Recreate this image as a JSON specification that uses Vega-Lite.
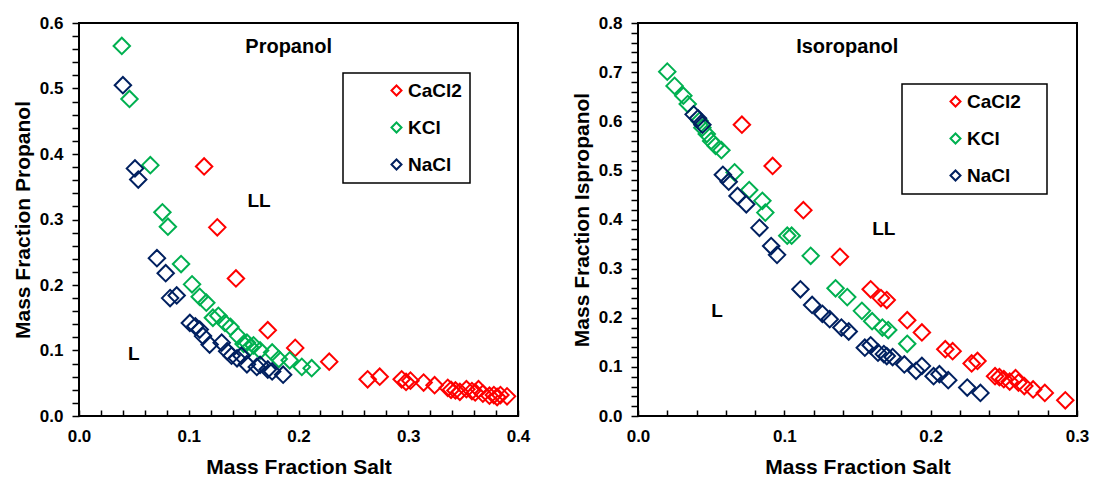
{
  "$schema": "https://vega.github.io/schema/vega-lite/v6.json",
  "padding": {"left": 11, "top": 13, "right": 5, "bottom": 5},
  "background": "white",
  "config": {
    "font": "Liberation Sans",
    "view": {"stroke": "black", "strokeWidth": 2},
    "axis": {"grid": false, "domain": false, "ticks": true, "tickColor": "#000000", "tickOpacity": 1, "tickWidth": 1.5, "zindex": 1, "labelFont": "Liberation Sans", "labelFontWeight": "bold", "labelFontSize": 17, "labelColor": "black", "titleFont": "Liberation Sans", "titleFontWeight": "bold", "titleFontSize": 21, "titleColor": "black", "labelOverlap": false, "labelFlush": false},
    "legend": {"labelFont": "Liberation Sans", "labelFontWeight": "bold", "labelFontSize": 19, "labelColor": "black", "strokeColor": "black", "strokeWidth": 1.5, "padding": 8, "symbolType": "diamond", "symbolSize": 100, "symbolStrokeWidth": 2, "symbolOffset": 36, "labelOffset": 2, "rowPadding": 17, "fillColor": "white"}
  },
  "datasets": {
    "pts": [
      {"panel": "P", "salt": "CaCl2", "x": 0.114, "y": 0.381},
      {"panel": "P", "salt": "CaCl2", "x": 0.126, "y": 0.288},
      {"panel": "P", "salt": "CaCl2", "x": 0.143, "y": 0.210},
      {"panel": "P", "salt": "CaCl2", "x": 0.172, "y": 0.131},
      {"panel": "P", "salt": "CaCl2", "x": 0.197, "y": 0.104},
      {"panel": "P", "salt": "CaCl2", "x": 0.228, "y": 0.083},
      {"panel": "P", "salt": "CaCl2", "x": 0.263, "y": 0.056},
      {"panel": "P", "salt": "CaCl2", "x": 0.274, "y": 0.060},
      {"panel": "P", "salt": "CaCl2", "x": 0.294, "y": 0.056},
      {"panel": "P", "salt": "CaCl2", "x": 0.298, "y": 0.052},
      {"panel": "P", "salt": "CaCl2", "x": 0.302, "y": 0.054},
      {"panel": "P", "salt": "CaCl2", "x": 0.314, "y": 0.051},
      {"panel": "P", "salt": "CaCl2", "x": 0.324, "y": 0.047},
      {"panel": "P", "salt": "CaCl2", "x": 0.336, "y": 0.043},
      {"panel": "P", "salt": "CaCl2", "x": 0.339, "y": 0.040},
      {"panel": "P", "salt": "CaCl2", "x": 0.343, "y": 0.039},
      {"panel": "P", "salt": "CaCl2", "x": 0.347, "y": 0.037},
      {"panel": "P", "salt": "CaCl2", "x": 0.353, "y": 0.041},
      {"panel": "P", "salt": "CaCl2", "x": 0.358, "y": 0.038},
      {"panel": "P", "salt": "CaCl2", "x": 0.361, "y": 0.036},
      {"panel": "P", "salt": "CaCl2", "x": 0.364, "y": 0.041},
      {"panel": "P", "salt": "CaCl2", "x": 0.368, "y": 0.034},
      {"panel": "P", "salt": "CaCl2", "x": 0.374, "y": 0.031},
      {"panel": "P", "salt": "CaCl2", "x": 0.378, "y": 0.032},
      {"panel": "P", "salt": "CaCl2", "x": 0.381, "y": 0.029},
      {"panel": "P", "salt": "CaCl2", "x": 0.384, "y": 0.032},
      {"panel": "P", "salt": "CaCl2", "x": 0.390, "y": 0.030},
      {"panel": "P", "salt": "KCl", "x": 0.039, "y": 0.565},
      {"panel": "P", "salt": "KCl", "x": 0.046, "y": 0.484},
      {"panel": "P", "salt": "KCl", "x": 0.065, "y": 0.383},
      {"panel": "P", "salt": "KCl", "x": 0.076, "y": 0.311},
      {"panel": "P", "salt": "KCl", "x": 0.081, "y": 0.289},
      {"panel": "P", "salt": "KCl", "x": 0.093, "y": 0.232},
      {"panel": "P", "salt": "KCl", "x": 0.103, "y": 0.201},
      {"panel": "P", "salt": "KCl", "x": 0.110, "y": 0.182},
      {"panel": "P", "salt": "KCl", "x": 0.116, "y": 0.173},
      {"panel": "P", "salt": "KCl", "x": 0.122, "y": 0.150},
      {"panel": "P", "salt": "KCl", "x": 0.127, "y": 0.153},
      {"panel": "P", "salt": "KCl", "x": 0.133, "y": 0.142},
      {"panel": "P", "salt": "KCl", "x": 0.138, "y": 0.136},
      {"panel": "P", "salt": "KCl", "x": 0.145, "y": 0.122},
      {"panel": "P", "salt": "KCl", "x": 0.150, "y": 0.110},
      {"panel": "P", "salt": "KCl", "x": 0.153, "y": 0.112},
      {"panel": "P", "salt": "KCl", "x": 0.156, "y": 0.105},
      {"panel": "P", "salt": "KCl", "x": 0.159, "y": 0.108},
      {"panel": "P", "salt": "KCl", "x": 0.165, "y": 0.100},
      {"panel": "P", "salt": "KCl", "x": 0.176, "y": 0.097},
      {"panel": "P", "salt": "KCl", "x": 0.182, "y": 0.087},
      {"panel": "P", "salt": "KCl", "x": 0.192, "y": 0.085},
      {"panel": "P", "salt": "KCl", "x": 0.203, "y": 0.075},
      {"panel": "P", "salt": "KCl", "x": 0.212, "y": 0.073},
      {"panel": "P", "salt": "NaCl", "x": 0.040, "y": 0.505},
      {"panel": "P", "salt": "NaCl", "x": 0.051, "y": 0.378},
      {"panel": "P", "salt": "NaCl", "x": 0.054, "y": 0.361},
      {"panel": "P", "salt": "NaCl", "x": 0.071, "y": 0.241},
      {"panel": "P", "salt": "NaCl", "x": 0.079, "y": 0.218},
      {"panel": "P", "salt": "NaCl", "x": 0.083, "y": 0.180},
      {"panel": "P", "salt": "NaCl", "x": 0.089, "y": 0.184},
      {"panel": "P", "salt": "NaCl", "x": 0.101, "y": 0.142},
      {"panel": "P", "salt": "NaCl", "x": 0.106, "y": 0.137},
      {"panel": "P", "salt": "NaCl", "x": 0.110, "y": 0.132},
      {"panel": "P", "salt": "NaCl", "x": 0.113, "y": 0.122},
      {"panel": "P", "salt": "NaCl", "x": 0.119, "y": 0.109},
      {"panel": "P", "salt": "NaCl", "x": 0.130, "y": 0.112},
      {"panel": "P", "salt": "NaCl", "x": 0.135, "y": 0.099},
      {"panel": "P", "salt": "NaCl", "x": 0.139, "y": 0.092},
      {"panel": "P", "salt": "NaCl", "x": 0.144, "y": 0.088},
      {"panel": "P", "salt": "NaCl", "x": 0.148, "y": 0.092},
      {"panel": "P", "salt": "NaCl", "x": 0.153, "y": 0.079},
      {"panel": "P", "salt": "NaCl", "x": 0.162, "y": 0.075},
      {"panel": "P", "salt": "NaCl", "x": 0.165, "y": 0.078},
      {"panel": "P", "salt": "NaCl", "x": 0.172, "y": 0.071},
      {"panel": "P", "salt": "NaCl", "x": 0.176, "y": 0.068},
      {"panel": "P", "salt": "NaCl", "x": 0.186, "y": 0.063},
      {"panel": "I", "salt": "CaCl2", "x": 0.071, "y": 0.593},
      {"panel": "I", "salt": "CaCl2", "x": 0.092, "y": 0.509},
      {"panel": "I", "salt": "CaCl2", "x": 0.113, "y": 0.419},
      {"panel": "I", "salt": "CaCl2", "x": 0.138, "y": 0.324},
      {"panel": "I", "salt": "CaCl2", "x": 0.159, "y": 0.258},
      {"panel": "I", "salt": "CaCl2", "x": 0.166, "y": 0.240},
      {"panel": "I", "salt": "CaCl2", "x": 0.170, "y": 0.236},
      {"panel": "I", "salt": "CaCl2", "x": 0.184, "y": 0.195},
      {"panel": "I", "salt": "CaCl2", "x": 0.194, "y": 0.170},
      {"panel": "I", "salt": "CaCl2", "x": 0.210, "y": 0.136},
      {"panel": "I", "salt": "CaCl2", "x": 0.215, "y": 0.132},
      {"panel": "I", "salt": "CaCl2", "x": 0.228, "y": 0.107},
      {"panel": "I", "salt": "CaCl2", "x": 0.232, "y": 0.112},
      {"panel": "I", "salt": "CaCl2", "x": 0.244, "y": 0.081},
      {"panel": "I", "salt": "CaCl2", "x": 0.247, "y": 0.079},
      {"panel": "I", "salt": "CaCl2", "x": 0.250, "y": 0.075},
      {"panel": "I", "salt": "CaCl2", "x": 0.254, "y": 0.070},
      {"panel": "I", "salt": "CaCl2", "x": 0.258, "y": 0.077},
      {"panel": "I", "salt": "CaCl2", "x": 0.260, "y": 0.068},
      {"panel": "I", "salt": "CaCl2", "x": 0.264, "y": 0.061},
      {"panel": "I", "salt": "CaCl2", "x": 0.270, "y": 0.054},
      {"panel": "I", "salt": "CaCl2", "x": 0.278, "y": 0.047},
      {"panel": "I", "salt": "CaCl2", "x": 0.292, "y": 0.032},
      {"panel": "I", "salt": "KCl", "x": 0.020, "y": 0.701},
      {"panel": "I", "salt": "KCl", "x": 0.025, "y": 0.672},
      {"panel": "I", "salt": "KCl", "x": 0.031, "y": 0.652},
      {"panel": "I", "salt": "KCl", "x": 0.034, "y": 0.635},
      {"panel": "I", "salt": "KCl", "x": 0.042, "y": 0.601},
      {"panel": "I", "salt": "KCl", "x": 0.044, "y": 0.587},
      {"panel": "I", "salt": "KCl", "x": 0.047, "y": 0.574},
      {"panel": "I", "salt": "KCl", "x": 0.050, "y": 0.560},
      {"panel": "I", "salt": "KCl", "x": 0.053, "y": 0.550},
      {"panel": "I", "salt": "KCl", "x": 0.057, "y": 0.541},
      {"panel": "I", "salt": "KCl", "x": 0.066, "y": 0.496},
      {"panel": "I", "salt": "KCl", "x": 0.076, "y": 0.460},
      {"panel": "I", "salt": "KCl", "x": 0.085, "y": 0.438},
      {"panel": "I", "salt": "KCl", "x": 0.087, "y": 0.414},
      {"panel": "I", "salt": "KCl", "x": 0.102, "y": 0.367},
      {"panel": "I", "salt": "KCl", "x": 0.105, "y": 0.367},
      {"panel": "I", "salt": "KCl", "x": 0.118, "y": 0.326},
      {"panel": "I", "salt": "KCl", "x": 0.135, "y": 0.260},
      {"panel": "I", "salt": "KCl", "x": 0.143, "y": 0.242},
      {"panel": "I", "salt": "KCl", "x": 0.153, "y": 0.214},
      {"panel": "I", "salt": "KCl", "x": 0.160, "y": 0.193},
      {"panel": "I", "salt": "KCl", "x": 0.167, "y": 0.180},
      {"panel": "I", "salt": "KCl", "x": 0.171, "y": 0.175},
      {"panel": "I", "salt": "KCl", "x": 0.184, "y": 0.147},
      {"panel": "I", "salt": "NaCl", "x": 0.038, "y": 0.614},
      {"panel": "I", "salt": "NaCl", "x": 0.041, "y": 0.606},
      {"panel": "I", "salt": "NaCl", "x": 0.044, "y": 0.593},
      {"panel": "I", "salt": "NaCl", "x": 0.058, "y": 0.491},
      {"panel": "I", "salt": "NaCl", "x": 0.062, "y": 0.477},
      {"panel": "I", "salt": "NaCl", "x": 0.068, "y": 0.448},
      {"panel": "I", "salt": "NaCl", "x": 0.074, "y": 0.431},
      {"panel": "I", "salt": "NaCl", "x": 0.083, "y": 0.383},
      {"panel": "I", "salt": "NaCl", "x": 0.091, "y": 0.346},
      {"panel": "I", "salt": "NaCl", "x": 0.095, "y": 0.328},
      {"panel": "I", "salt": "NaCl", "x": 0.111, "y": 0.258},
      {"panel": "I", "salt": "NaCl", "x": 0.119, "y": 0.226},
      {"panel": "I", "salt": "NaCl", "x": 0.126, "y": 0.208},
      {"panel": "I", "salt": "NaCl", "x": 0.131, "y": 0.197},
      {"panel": "I", "salt": "NaCl", "x": 0.139, "y": 0.180},
      {"panel": "I", "salt": "NaCl", "x": 0.144, "y": 0.172},
      {"panel": "I", "salt": "NaCl", "x": 0.155, "y": 0.139},
      {"panel": "I", "salt": "NaCl", "x": 0.159, "y": 0.144},
      {"panel": "I", "salt": "NaCl", "x": 0.164, "y": 0.129},
      {"panel": "I", "salt": "NaCl", "x": 0.168, "y": 0.126},
      {"panel": "I", "salt": "NaCl", "x": 0.170, "y": 0.122},
      {"panel": "I", "salt": "NaCl", "x": 0.174, "y": 0.120},
      {"panel": "I", "salt": "NaCl", "x": 0.182, "y": 0.105},
      {"panel": "I", "salt": "NaCl", "x": 0.190, "y": 0.092},
      {"panel": "I", "salt": "NaCl", "x": 0.194, "y": 0.102},
      {"panel": "I", "salt": "NaCl", "x": 0.202, "y": 0.081},
      {"panel": "I", "salt": "NaCl", "x": 0.206, "y": 0.085},
      {"panel": "I", "salt": "NaCl", "x": 0.212, "y": 0.073},
      {"panel": "I", "salt": "NaCl", "x": 0.225, "y": 0.058},
      {"panel": "I", "salt": "NaCl", "x": 0.234, "y": 0.047}
    ],
    "notes": [
      {"panel": "P", "kind": "title", "label": "Propanol", "x": 0.191, "y": 0.563},
      {"panel": "P", "kind": "region", "label": "LL", "x": 0.164, "y": 0.328},
      {"panel": "P", "kind": "region", "label": "L", "x": 0.050, "y": 0.095},
      {"panel": "I", "kind": "title", "label": "Isoropanol", "x": 0.143, "y": 0.751},
      {"panel": "I", "kind": "region", "label": "LL", "x": 0.168, "y": 0.381},
      {"panel": "I", "kind": "region", "label": "L", "x": 0.054, "y": 0.214}
    ]
  },
  "hconcat": [
    {
      "width": 439,
      "height": 393,
      "resolve": {"axis": {"x": "independent", "y": "independent"}},
      "layer": [
        {
          "data": {"name": "pts"},
          "transform": [{"filter": "datum.panel === 'P'"}],
          "mark": {"type": "point", "shape": "diamond", "filled": false, "size": 270, "strokeWidth": 2, "opacity": 1},
          "encoding": {
            "x": {"field": "x", "type": "quantitative", "scale": {"domain": [0, 0.4], "nice": false},
              "axis": {"title": "Mass Fraction Salt", "orient": "bottom", "values": [0,0.02,0.04,0.06,0.08,0.1,0.12,0.14,0.16,0.18,0.2,0.22,0.24,0.26,0.28,0.3,0.32,0.34,0.36,0.38,0.4], "labelExpr": "abs(datum.value*10 - round(datum.value*10)) < 0.001 ? format(datum.value, '.1f') : ''", "ticks": true, "tickColor": "#000000", "tickWidth": 1.5, "tickSize": -6, "labelPadding": 18, "titlePadding": 12, "labelOverlap": false}},
            "y": {"field": "y", "type": "quantitative", "scale": {"domain": [0, 0.6], "nice": false},
              "axis": {"title": "Mass Fraction Propanol", "orient": "left", "values": [0,0.02,0.04,0.06,0.08,0.1,0.12,0.14,0.16,0.18,0.2,0.22,0.24,0.26,0.28,0.3,0.32,0.34,0.36,0.38,0.4,0.42,0.44,0.46,0.48,0.5,0.52,0.54,0.56,0.58,0.6], "labelExpr": "abs(datum.value*10 - round(datum.value*10)) < 0.001 ? format(datum.value, '.1f') : ''", "ticks": true, "tickColor": "#000000", "tickWidth": 1.5, "tickSize": 7, "labelPadding": 9, "titlePadding": 6, "labelOverlap": false}},
            "color": {"field": "salt", "type": "nominal", "scale": {"domain": ["CaCl2", "KCl", "NaCl"], "range": ["#FF0000", "#00B050", "#002060"]},
              "legend": {"title": null, "orient": "none", "legendX": 264, "legendY": 50}}
          }
        },
        {
          "data": {"name": "notes"},
          "transform": [{"filter": "datum.panel === 'P' && datum.kind === 'title'"}],
          "mark": {"type": "text", "font": "Liberation Sans", "fontWeight": "bold", "fontSize": 20, "align": "center", "baseline": "middle", "color": "black"},
          "encoding": {"x": {"field": "x", "type": "quantitative", "axis": null}, "y": {"field": "y", "type": "quantitative", "axis": null}, "text": {"field": "label"}}
        },
        {
          "data": {"name": "notes"},
          "transform": [{"filter": "datum.panel === 'P' && datum.kind === 'region'"}],
          "mark": {"type": "text", "font": "Liberation Sans", "fontWeight": "bold", "fontSize": 19, "align": "center", "baseline": "middle", "color": "black"},
          "encoding": {"x": {"field": "x", "type": "quantitative", "axis": null}, "y": {"field": "y", "type": "quantitative", "axis": null}, "text": {"field": "label"}}
        }
      ]
    },
    {
      "width": 439,
      "height": 393,
      "resolve": {"axis": {"x": "independent", "y": "independent"}},
      "layer": [
        {
          "data": {"name": "pts"},
          "transform": [{"filter": "datum.panel === 'I'"}],
          "mark": {"type": "point", "shape": "diamond", "filled": false, "size": 270, "strokeWidth": 2, "opacity": 1},
          "encoding": {
            "x": {"field": "x", "type": "quantitative", "scale": {"domain": [0, 0.3], "nice": false},
              "axis": {"title": "Mass Fraction Salt", "orient": "bottom", "values": [0,0.02,0.04,0.06,0.08,0.1,0.12,0.14,0.16,0.18,0.2,0.22,0.24,0.26,0.28,0.3], "labelExpr": "abs(datum.value*10 - round(datum.value*10)) < 0.001 ? format(datum.value, '.1f') : ''", "ticks": true, "tickColor": "#000000", "tickWidth": 1.5, "tickSize": -6, "labelPadding": 18, "titlePadding": 12, "labelOverlap": false}},
            "y": {"field": "y", "type": "quantitative", "scale": {"domain": [0, 0.8], "nice": false},
              "axis": {"title": "Mass Fraction Ispropanol", "orient": "left", "values": [0,0.02,0.04,0.06,0.08,0.1,0.12,0.14,0.16,0.18,0.2,0.22,0.24,0.26,0.28,0.3,0.32,0.34,0.36,0.38,0.4,0.42,0.44,0.46,0.48,0.5,0.52,0.54,0.56,0.58,0.6,0.62,0.64,0.66,0.68,0.7,0.72,0.74,0.76,0.78,0.8], "labelExpr": "abs(datum.value*10 - round(datum.value*10)) < 0.001 ? format(datum.value, '.1f') : ''", "ticks": true, "tickColor": "#000000", "tickWidth": 1.5, "tickSize": 7, "labelPadding": 9, "titlePadding": 6, "labelOverlap": false}},
            "color": {"field": "salt", "type": "nominal", "scale": {"domain": ["CaCl2", "KCl", "NaCl"], "range": ["#FF0000", "#00B050", "#002060"]},
              "legend": {"title": " ", "titleOrient": "right", "titlePadding": 18, "orient": "none", "legendX": 264, "legendY": 61}}
          }
        },
        {
          "data": {"name": "notes"},
          "transform": [{"filter": "datum.panel === 'I' && datum.kind === 'title'"}],
          "mark": {"type": "text", "font": "Liberation Sans", "fontWeight": "bold", "fontSize": 20, "align": "center", "baseline": "middle", "color": "black"},
          "encoding": {"x": {"field": "x", "type": "quantitative", "axis": null}, "y": {"field": "y", "type": "quantitative", "axis": null}, "text": {"field": "label"}}
        },
        {
          "data": {"name": "notes"},
          "transform": [{"filter": "datum.panel === 'I' && datum.kind === 'region'"}],
          "mark": {"type": "text", "font": "Liberation Sans", "fontWeight": "bold", "fontSize": 19, "align": "center", "baseline": "middle", "color": "black"},
          "encoding": {"x": {"field": "x", "type": "quantitative", "axis": null}, "y": {"field": "y", "type": "quantitative", "axis": null}, "text": {"field": "label"}}
        }
      ]
    }
  ],
  "spacing": 39,
  "resolve": {"scale": {"color": "independent"}, "legend": {"color": "independent"}}
}
